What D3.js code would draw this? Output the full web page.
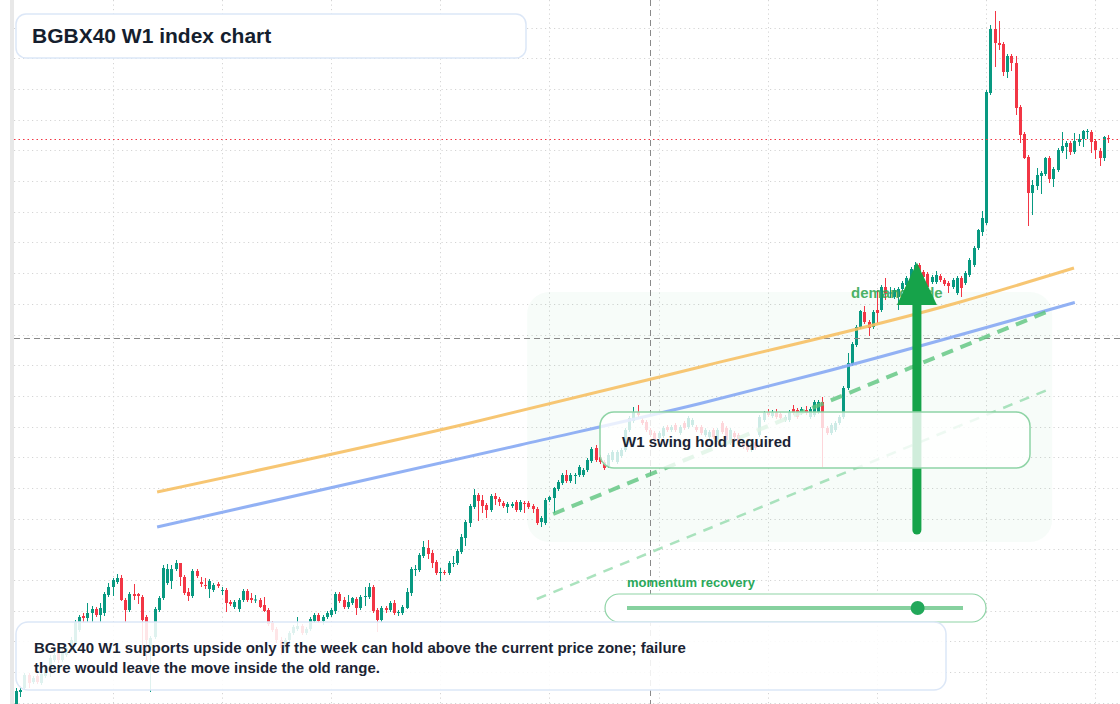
<!DOCTYPE html>
<html>
<head>
<meta charset="utf-8">
<script src="https://cdn.jsdelivr.net/npm/d3@7/dist/d3.min.js"></script>
<style>
  html, body { margin: 0; padding: 0; background: #fff; }
  svg { display: block; font-family: "Liberation Sans", Arial, sans-serif; }
</style>
</head>
<body>
<div id="chart"></div>
<script>
// weekly candles, BGBX40 (index points)
const opens = [58.8,61.6,62.4,65.0,63.6,64.8,63.4,64.8,66.0,68.0,70.0,68.0,69.0,70.0,71.4,74.0,76.8,76.4,77.4,78.2,
  77.0,77.4,81.0,82.6,83.6,84.4,80.0,78.0,81.2,81.2,80.6,76.6,70.4,72.6,78.0,80.4,83.4,83.8,86.2,87.4,
  84.6,81.6,80.8,85.8,83.6,83.0,82.2,82.0,83.2,81.8,82.0,79.6,78.6,78.2,80.0,81.8,80.4,79.9,80.0,79.0,
  78.0,75.4,74.2,72.0,70.4,72.0,73.4,74.2,74.8,73.4,74.2,75.8,77.0,75.8,76.6,77.0,77.8,81.2,80.0,78.6,
  79.4,80.2,78.4,80.6,80.6,82.6,78.0,76.0,78.4,78.0,79.4,77.4,77.4,78.4,81.4,86.0,86.0,88.8,90.4,89.4,
  87.6,85.4,85.6,85.4,87.2,87.4,89.6,92.4,95.4,98.6,101.0,100.0,99.0,98.0,100.8,100.2,99.4,98.6,98.8,99.6,
  98.0,99.4,99.4,98.8,98.2,95.6,95.4,100.0,100.4,102.2,103.4,105.0,103.8,104.8,105.0,105.0,106.0,107.8,110.4,108.6,
  107.6,106.8,108.0,107.6,108.8,110.0,114.0,115.8,117.6,116.0,115.6,114.0,113.4,112.4,112.8,114.6,114.0,115.0,113.4,115.4,
  114.6,115.0,114.6,114.6,113.0,112.6,114.0,112.0,115.4,114.4,111.4,113.4,113.0,111.6,111.0,110.0,111.6,113.0,116.0,117.6,
  116.8,117.6,117.2,116.0,116.0,118.2,118.0,117.4,118.0,116.6,117.0,117.6,119.6,114.4,113.4,114.0,115.4,116.6,122.4,127.2,
  131.0,134.6,137.6,135.6,134.6,138.0,138.0,142.6,141.3,140.6,140.6,142.2,143.0,144.0,146.0,147.0,145.6,145.2,143.6,143.6,
  144.8,144.0,143.4,142.6,141.4,144.4,143.4,145.0,147.0,150.4,153.6,155.4,181.4,194.2,191.4,191.2,185.6,188.8,187.4,178.6,
  173.2,168.6,161.4,162.8,164.8,165.2,168.4,164.2,166.0,169.8,170.6,171.4,169.6,171.6,172.2,173.6,173.6,171.8,169.8,168.4,
  172.4];

const closes = [61.8,62.0,65.0,63.4,64.4,63.6,65.2,66.4,68.4,69.0,68.0,69.6,70.4,72.0,75.6,76.6,76.4,77.4,78.2,77.0,
  78.4,81.2,82.6,84.0,84.4,80.0,78.0,81.2,80.8,80.8,76.0,72.0,72.4,78.2,80.4,86.4,86.2,86.2,87.4,84.6,
  81.4,80.8,85.8,84.8,83.2,82.8,83.8,83.0,82.8,82.0,79.4,79.2,79.6,80.0,81.8,80.0,80.0,80.1,78.6,77.8,
  75.2,74.0,72.0,70.4,72.0,73.4,74.6,74.8,73.4,74.2,76.2,77.0,75.8,76.6,77.4,78.0,81.2,79.8,78.6,79.6,
  80.4,78.4,80.6,80.8,82.6,77.8,76.0,78.4,78.0,79.4,77.4,77.6,78.6,81.6,86.2,86.2,89.0,90.6,89.2,87.4,
  85.4,85.6,85.4,87.4,87.4,89.8,92.6,95.6,98.8,101.0,99.8,98.8,98.0,100.8,100.2,99.6,98.8,99.2,99.2,98.0,
  99.6,99.2,98.6,98.2,95.4,96.4,100.0,100.6,102.4,103.6,105.0,103.8,105.0,105.0,106.6,106.0,108.0,110.2,108.0,107.6,
  106.4,109.0,109.6,109.6,110.0,114.0,116.4,117.6,117.0,115.4,114.0,113.0,112.0,113.4,114.4,114.0,114.6,114.0,114.6,114.4,
  116.4,116.0,114.0,113.4,114.0,113.6,112.6,114.0,113.6,112.0,114.0,112.6,111.6,110.6,110.0,111.4,110.4,116.6,117.4,117.0,
  117.6,116.6,116.4,116.6,117.6,117.4,116.6,118.2,117.4,118.2,119.6,119.6,114.4,113.4,115.0,115.4,116.6,122.4,127.4,131.2,
  134.6,137.8,135.6,134.4,137.6,137.4,142.6,141.4,141.5,142.0,142.2,143.4,144.4,146.2,147.0,145.6,144.6,142.6,144.6,145.0,
  144.0,143.2,142.8,144.0,144.4,142.4,145.4,148.0,150.4,154.0,156.4,181.6,194.2,191.4,191.0,185.6,188.8,187.4,178.4,173.0,
  168.4,161.4,163.0,165.0,165.4,168.4,164.2,166.2,170.0,170.8,171.4,169.6,171.8,172.2,173.8,173.8,171.6,170.0,168.4,172.6,
  172.2];

const highs = [62.4,62.6,65.4,65.4,64.8,65.2,65.6,67.0,69.0,69.6,71.0,70.2,71.0,72.6,76.0,77.0,77.4,79.4,78.8,78.6,
  79.4,81.6,83.4,84.4,85.2,85.0,80.4,81.6,83.2,81.4,81.0,77.0,72.8,78.6,80.8,87.0,87.2,87.0,88.0,87.4,
  85.0,82.4,86.2,86.2,84.6,84.4,84.2,83.4,83.6,82.6,82.4,80.0,80.0,80.4,82.2,82.2,81.4,81.0,80.4,80.6,
  78.4,75.8,74.6,72.6,72.4,73.8,75.0,76.6,75.2,74.6,76.6,77.4,77.4,77.0,77.8,78.4,81.6,81.6,80.6,81.0,
  80.6,80.6,81.0,82.6,83.4,83.0,78.4,78.8,78.8,79.8,80.0,78.0,79.0,82.4,86.6,87.0,89.4,91.8,92.0,90.0,
  88.0,86.4,86.0,87.8,88.8,90.2,93.2,96.0,99.2,102.2,101.4,101.0,99.4,101.2,101.4,100.6,99.8,99.6,99.6,100.0,
  100.0,99.8,99.8,99.2,98.6,96.8,100.4,100.8,102.6,104.0,105.4,106.0,105.4,105.4,107.0,106.4,108.4,110.6,111.0,109.0,
  108.0,109.4,110.0,110.0,110.4,114.4,116.8,118.6,119.0,116.4,116.0,114.4,113.8,113.8,114.8,115.0,115.0,115.4,115.0,115.8,
  116.8,116.4,115.0,115.0,114.4,114.0,114.4,114.4,115.8,114.8,114.4,113.8,113.4,112.0,111.4,111.8,112.0,117.0,117.8,118.2,
  118.0,118.2,117.6,117.0,118.0,119.0,118.4,118.6,118.8,118.6,120.0,120.0,120.6,114.8,115.4,115.8,117.0,122.8,129.4,131.6,
  135.0,138.0,138.8,136.0,138.0,142.0,143.0,144.4,142.6,142.4,142.6,143.8,144.8,146.6,147.6,147.4,146.0,145.6,145.0,145.8,
  145.2,144.4,143.8,144.4,144.8,144.8,145.8,148.4,150.8,154.2,157.8,182.0,195.0,197.8,195.8,191.6,189.2,189.2,188.8,179.0,
  173.6,169.0,164.0,166.4,165.8,168.6,168.8,166.6,170.4,173.6,171.8,171.8,173.4,173.2,174.0,174.2,174.0,172.2,170.4,172.8,
  173.0];

const lows = [58.4,60.6,62.0,62.4,63.2,63.2,63.0,64.4,64.6,67.6,67.4,67.6,68.6,69.6,71.0,73.6,75.6,75.6,75.6,76.6,
  75.6,76.8,80.6,80.8,83.2,79.8,75.6,77.6,80.0,79.2,70.0,68.0,61.6,72.2,77.6,80.0,83.0,82.2,85.8,82.8,
  81.0,79.8,80.4,84.4,82.6,82.2,80.4,81.6,82.4,81.0,77.6,78.8,78.2,77.6,79.6,79.6,79.4,79.4,78.4,77.6,
  74.8,73.6,71.4,69.0,70.0,71.6,73.0,73.8,73.0,73.0,73.8,75.4,75.4,75.0,76.2,76.6,77.2,79.4,78.2,78.2,
  79.0,77.0,78.0,78.8,80.2,77.4,73.6,75.6,77.4,77.6,77.0,76.8,77.0,78.2,80.8,84.8,85.6,88.4,88.2,86.4,
  85.0,83.8,85.0,85.0,86.6,87.0,89.2,90.8,94.6,98.2,95.8,97.4,96.4,97.6,99.0,98.8,98.4,97.4,98.4,97.6,
  97.6,97.4,98.2,97.4,95.0,94.6,95.0,99.6,97.4,101.8,103.0,103.4,103.4,103.2,104.6,104.6,105.6,107.4,107.6,107.2,
  106.0,106.4,107.6,107.2,108.4,109.6,113.6,115.4,116.6,115.0,113.6,112.6,111.6,112.0,112.4,113.6,113.6,113.6,113.0,114.0,
  114.2,114.6,113.6,113.0,112.6,112.2,112.2,111.6,113.2,110.8,111.0,112.2,111.2,110.2,109.6,109.6,110.0,112.6,115.6,116.6,
  116.4,116.2,116.0,115.6,115.6,117.0,116.2,117.0,117.0,116.2,116.6,117.2,106.6,113.0,113.0,113.6,115.0,116.2,122.0,126.8,
  130.6,134.2,135.2,132.8,134.2,135.4,137.6,140.0,140.4,140.2,138.0,141.8,142.6,143.6,145.6,145.2,144.2,142.2,143.2,143.2,
  143.6,142.8,141.4,142.2,141.0,140.6,143.0,144.6,146.6,150.0,152.8,155.0,181.0,186.6,190.0,184.8,184.4,185.8,177.0,171.4,
  168.2,154.8,157.0,162.0,161.2,164.8,163.4,162.6,165.6,169.4,168.2,169.0,169.2,170.8,170.6,172.2,169.4,168.2,166.8,167.8,
  171.4];

// background grid levels (price) and grid weeks (candle index)
const priceGrid = [200.6,194.46,188.33,182.19,176.06,169.92,163.78,157.65,151.51,145.38,139.24,133.10,
  126.97,120.83,114.70,108.56,102.42,96.29,90.15,84.02,77.88,71.74,65.61,59.47];
const weekGrid = [23, 49, 75, 101, 127, 153, 179, 205, 231, 257];

// drawn trend curves (candle index, price)
const upperTrend = [[33.6, 101.6], [108.1, 115.4], [162.9, 126.6], [224.8, 139.6], [251.9, 146.4]];
const lowerTrend = [[33.6, 94.6], [120, 111.0], [162.9, 119.3], [191.4, 125.4], [252.1, 139.5]];
const swingLine = [[127.9, 97.2], [245.4, 137.6]];
const recoveryLine = [[124.0, 80.2], [245.5, 122.0]];
const demandZone = { from: 121.7, to: 246.7, low: 91.6, high: 141.6 };
const arrowPts = { week: 214.5, base: 94.0, tip: 147.5, head: 139.0 };
const crossWeek = 151, crossPrice = 132.4;
const momentum = 0.865;

const title = "BGBX40 W1 index chart";
const note = ["BGBX40 W1 supports upside only if the week can hold above the current price zone; failure",
  "there would leave the move inside the old range."];

const width = 1120, height = 704;
const upColor = "#089981", downColor = "#f23645";

const svg = d3.select("#chart").append("svg")
  .attr("width", width).attr("height", height);

svg.append("rect").attr("width", width).attr("height", height).attr("fill", "#fff");

const x = d3.scaleLinear().domain([0, 260]).range([16, 1108]);
const y = d3.scaleLinear().domain([59.2, 200]).range([height, 0]);

// left edge strip
svg.append("rect").attr("x", 10).attr("y", 0).attr("width", 4).attr("height", height).attr("fill", "#e8e8e8");

// grid
svg.append("g").selectAll("line").data(priceGrid).join("line")
  .attr("x1", 14).attr("x2", width)
  .attr("y1", d => Math.round(y(d)) + 0.5).attr("y2", d => Math.round(y(d)) + 0.5)
  .attr("stroke", "#d4d4d4").attr("stroke-dasharray", "1.2,3.3");
svg.append("g").selectAll("line").data(weekGrid).join("line")
  .attr("x1", d => Math.round(x(d)) + 0.5).attr("x2", d => Math.round(x(d)) + 0.5)
  .attr("y1", 0).attr("y2", height)
  .attr("stroke", "#d4d4d4").attr("stroke-dasharray", "1.2,3.3");

// demand zone
svg.append("rect")
  .attr("x", x(demandZone.from)).attr("y", y(demandZone.high))
  .attr("width", x(demandZone.to) - x(demandZone.from))
  .attr("height", y(demandZone.low) - y(demandZone.high))
  .attr("rx", 22)
  .attr("fill", "#22a85a").attr("fill-opacity", 0.035);

// candles
const candles = d3.range(opens.length).map(i => ({
  i, o: opens[i], h: highs[i], l: lows[i], c: closes[i]
}));
const cg = svg.append("g");
cg.selectAll("rect.wick").data(candles).join("rect").attr("class", "wick")
  .attr("x", d => Math.round(x(d.i)))
  .attr("y", d => y(d.h))
  .attr("width", 1)
  .attr("height", d => Math.max(1, y(d.l) - y(d.h)))
  .attr("fill", d => d.c >= d.o ? upColor : downColor);
cg.selectAll("rect.body").data(candles).join("rect").attr("class", "body")
  .attr("x", d => Math.round(x(d.i)) - 1)
  .attr("y", d => y(Math.max(d.o, d.c)))
  .attr("width", 3)
  .attr("height", d => Math.max(1, Math.abs(y(d.o) - y(d.c))))
  .attr("fill", d => d.c >= d.o ? upColor : downColor);

// crosshair
svg.append("line")
  .attr("x1", Math.round(x(crossWeek)) + 0.5).attr("x2", Math.round(x(crossWeek)) + 0.5)
  .attr("y1", 0).attr("y2", height)
  .attr("stroke", "#8a8a8a").attr("stroke-dasharray", "6,4");
svg.append("line")
  .attr("x1", 14).attr("x2", width)
  .attr("y1", Math.round(y(crossPrice)) + 0.5).attr("y2", Math.round(y(crossPrice)) + 0.5)
  .attr("stroke", "#8a8a8a").attr("stroke-dasharray", "6,4");

// last price line
const last = closes[closes.length - 1];
svg.append("line")
  .attr("x1", 14).attr("x2", width)
  .attr("y1", Math.round(y(last)) + 0.5).attr("y2", Math.round(y(last)) + 0.5)
  .attr("stroke", downColor).attr("stroke-dasharray", "1.5,3");

// trend curves
const curve = d3.line().x(d => x(d[0])).y(d => y(d[1])).curve(d3.curveMonotoneX);
svg.append("path").attr("d", curve(upperTrend))
  .attr("fill", "none").attr("stroke", "#f6c064").attr("stroke-opacity", 0.9).attr("stroke-width", 3);
svg.append("path").attr("d", curve(lowerTrend))
  .attr("fill", "none").attr("stroke", "#86a8f3").attr("stroke-opacity", 0.9).attr("stroke-width", 3);
svg.append("path").attr("d", curve(swingLine))
  .attr("fill", "none").attr("stroke", "#5cc47e").attr("stroke-opacity", 0.8)
  .attr("stroke-width", 4).attr("stroke-dasharray", "12,8");
svg.append("path").attr("d", curve(recoveryLine))
  .attr("fill", "none").attr("stroke", "#8fd9a8").attr("stroke-opacity", 0.75)
  .attr("stroke-width", 2.5).attr("stroke-dasharray", "10,8");

// demand side label + arrow
svg.append("text").attr("x", 851).attr("y", 298)
  .attr("font-size", 15).attr("font-weight", "bold")
  .attr("fill", "#34a853").attr("fill-opacity", 0.9)
  .text("demand side");

const ax = x(arrowPts.week);
svg.append("line")
  .attr("x1", ax).attr("x2", ax)
  .attr("y1", y(arrowPts.base)).attr("y2", y(arrowPts.head))
  .attr("stroke", "#16a34a").attr("stroke-width", 9).attr("stroke-linecap", "round");
svg.append("path")
  .attr("d", `M${ax},${y(arrowPts.tip)} L${ax + 20},${y(arrowPts.head)} L${ax - 20},${y(arrowPts.head)} Z`)
  .attr("fill", "#16a34a");

// W1 swing box
svg.append("rect").attr("x", 600).attr("y", 412).attr("width", 430).attr("height", 56).attr("rx", 14)
  .attr("fill", "#fff").attr("fill-opacity", 0.8)
  .attr("stroke", "#8fd4a6").attr("stroke-width", 1.5);
svg.append("text").attr("x", 622).attr("y", 447)
  .attr("font-size", 15).attr("font-weight", "bold").attr("fill", "#1b2433")
  .text("W1 swing hold required");

// momentum slider
svg.append("text").attr("x", 627).attr("y", 587)
  .attr("font-size", 13).attr("font-weight", "bold").attr("fill", "#2aa85a")
  .text("momentum recovery");
svg.append("rect").attr("x", 605).attr("y", 594).attr("width", 381).attr("height", 28).attr("rx", 14)
  .attr("fill", "#fff").attr("stroke", "#8fd4a6").attr("stroke-width", 1.2);
const m = d3.scaleLinear().domain([0, 1]).range([627, 963]);
svg.append("line").attr("x1", m(0)).attr("x2", m(1)).attr("y1", 608).attr("y2", 608)
  .attr("stroke", "#86d19f").attr("stroke-width", 4);
svg.append("circle").attr("cx", m(momentum)).attr("cy", 608).attr("r", 7).attr("fill", "#22a85a");

// title panel
svg.append("rect").attr("x", 16).attr("y", 14).attr("width", 510).attr("height", 44).attr("rx", 10)
  .attr("fill", "#fff").attr("stroke", "#dce7f7").attr("stroke-width", 1.5);
svg.append("text").attr("x", 32).attr("y", 43)
  .attr("font-size", 21).attr("font-weight", "bold").attr("fill", "#151e2e")
  .text(title);

// note panel
svg.append("rect").attr("x", 16).attr("y", 622).attr("width", 930).attr("height", 68).attr("rx", 12)
  .attr("fill", "#fff").attr("fill-opacity", 0.87)
  .attr("stroke", "#dce7f7").attr("stroke-width", 1.5);
svg.append("g").selectAll("text").data(note).join("text")
  .attr("x", 34).attr("y", (d, i) => 653 + i * 20)
  .attr("font-size", 15).attr("font-weight", "bold").attr("fill", "#1b2433")
  .text(d => d);
</script>
</body>
</html>
